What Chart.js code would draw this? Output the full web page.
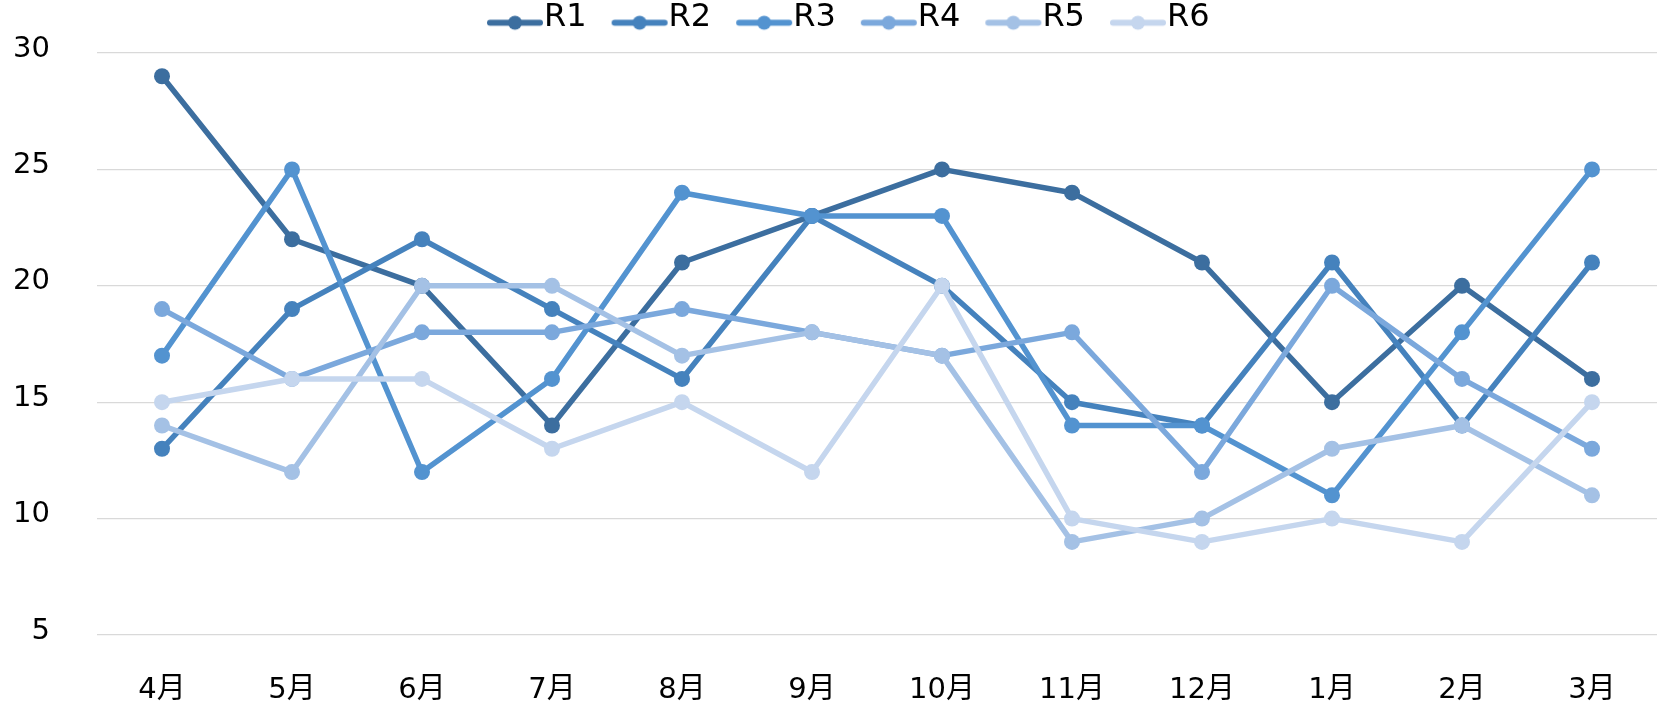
<!DOCTYPE html>
<html><head><meta charset="utf-8">
<script src="https://cdn.jsdelivr.net/npm/chart.js@4"></script>
<style>html,body{margin:0;padding:0;background:#fff;overflow:hidden}</style>
</head><body>
<canvas id="c" width="1665" height="708"></canvas>
<script>
const categories = ['4月','5月','6月','7月','8月','9月','10月','11月','12月','1月','2月','3月'];
const seriesNames = ['R1','R2','R3','R4','R5','R6'];
const r1 = [29,22,20,14,21,23,25,24,21,15,20,16];
const r2 = [13,19,22,19,16,23,20,15,14,21,14,21];
const r3 = [17,25,12,16,24,23,23,14,14,11,18,25];
const r4 = [19,16,18,18,19,18,17,18,12,20,16,13];
const r5 = [14,12,20,20,17,18,17,9,10,13,14,11];
const r6 = [15,16,16,13,15,12,20,10,9,10,9,15];
const yTicks = [5,10,15,20,25,30];
const seriesColors = ['#3c6e9f','#4582bd','#5393d0','#7ba8dc','#a4c1e5','#c5d6ee'];
const seriesData = [r1,r2,r3,r4,r5,r6];

const LEG_LEFT = 462, LEG_TOP = -38.8, LEG_H = 53;

function legendMarker(color){
  const cv = document.createElement('canvas');
  cv.width = 60; cv.height = 40;
  const g = cv.getContext('2d');
  g.strokeStyle = color; g.lineWidth = 6; g.lineCap = 'round';
  g.beginPath(); g.moveTo(5, 25.5); g.lineTo(55, 25.5); g.stroke();
  g.fillStyle = color;
  g.beginPath(); g.arc(30, 25.5, 7, 0, Math.PI*2); g.fill();
  return cv;
}
const markers = seriesColors.map(legendMarker);

const legendAdjust = {
  id: 'legendAdjust',
  beforeLayout(chart){
    const lg = chart.legend;
    if (lg && !lg._patched){
      const orig = lg.fit;
      lg.fit = function(){ orig.call(this); this.height = LEG_H; };
      lg._patched = true;
    }
  },
  afterLayout(chart){
    const lg = chart.legend;
    if (!lg) return;
    lg.left = LEG_LEFT; lg.right = 1665;
    lg.top = LEG_TOP; lg.bottom = 120;
  }
};

const tickFont = {family: "'DejaVu Sans','Noto Sans CJK JP',sans-serif", size: 29};

new Chart(document.getElementById('c'), {
  type: 'line',
  data: {
    labels: categories,
    datasets: seriesNames.map((n, i) => ({
      label: n,
      data: seriesData[i],
      borderColor: seriesColors[i],
      backgroundColor: seriesColors[i],
      pointBackgroundColor: seriesColors[i],
      pointBorderColor: seriesColors[i],
      pointRadius: 8,
      pointHoverRadius: 8,
      pointBorderWidth: 0,
      borderWidth: 5.5,
      borderJoinStyle: 'round',
      borderCapStyle: 'round',
      tension: 0,
      fill: false,
      order: seriesNames.length - i
    }))
  },
  options: {
    responsive: false,
    devicePixelRatio: 1,
    animation: false,
    layout: {padding: {left: 0, right: 7, top: 0, bottom: 0}},
    plugins: {
      tooltip: {enabled: false},
      legend: {
        position: 'top',
        align: 'start',
        labels: {
          usePointStyle: true,
          pointStyleWidth: 26,
          padding: 40,
          color: '#000',
          font: {family: "'DejaVu Sans',sans-serif", size: 32},
          sort: (a, b) => a.datasetIndex - b.datasetIndex,
          generateLabels(chart){
            const items = Chart.defaults.plugins.legend.labels.generateLabels(chart);
            items.forEach(it => { it.pointStyle = markers[it.datasetIndex]; });
            return items;
          }
        }
      }
    },
    scales: {
      x: {
        offset: true,
        grid: {display: false, drawTicks: false},
        border: {display: false},
        ticks: {font: tickFont, color: '#000', padding: 38, maxRotation: 0, autoSkip: false},
        afterFit(s){ s.height = 73; }
      },
      y: {
        min: yTicks[0],
        max: yTicks[yTicks.length-1],
        afterBuildTicks(s){ s.ticks = yTicks.map(v => ({value: v})); },
        grid: {color: '#d9d9d9', lineWidth: 1.3, drawTicks: false},
        border: {display: false},
        ticks: {font: tickFont, color: '#000', padding: 47, labelOffset: -4},
        afterFit(s){ s.width = 97; s.paddingTop = 0; s.paddingBottom = 0; }
      }
    }
  },
  plugins: [legendAdjust]
});
</script>
</body></html>
